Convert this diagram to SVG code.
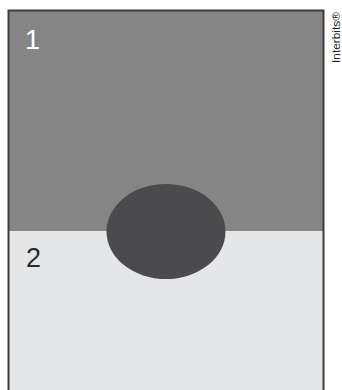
<svg xmlns="http://www.w3.org/2000/svg" width="342" height="390" viewBox="0 0 342 390">
<style>
.lbl{font-family:"Liberation Sans",Arial,sans-serif;font-size:27px}
</style>
<rect width="342" height="390" fill="#ffffff"/>
<g id="region1">
<rect x="9" y="11" width="314" height="220" fill="#858585"/>
<text class="lbl" x="25" y="49" fill="#ffffff">1</text>
</g>
<g id="region2">
<rect x="9" y="231" width="314" height="160" fill="#e5e6e8"/>
<text class="lbl" x="26" y="267" fill="#2b2b2b">2</text>
</g>
<g id="ellipse">
<ellipse cx="166" cy="231.5" rx="59.5" ry="47.5" fill="#4b4b4d"/>
</g>
<g id="frame">
<path d="M8.5 392 V10.5 H323.5 V392" fill="none" stroke="#3c3c3c" stroke-width="2"/>
</g>
<text x="340" y="63" transform="rotate(-90 340 63)" font-family="'Liberation Sans',Arial,sans-serif" font-size="10" textLength="51" lengthAdjust="spacingAndGlyphs" fill="#222">Interbits®</text>
</svg>
